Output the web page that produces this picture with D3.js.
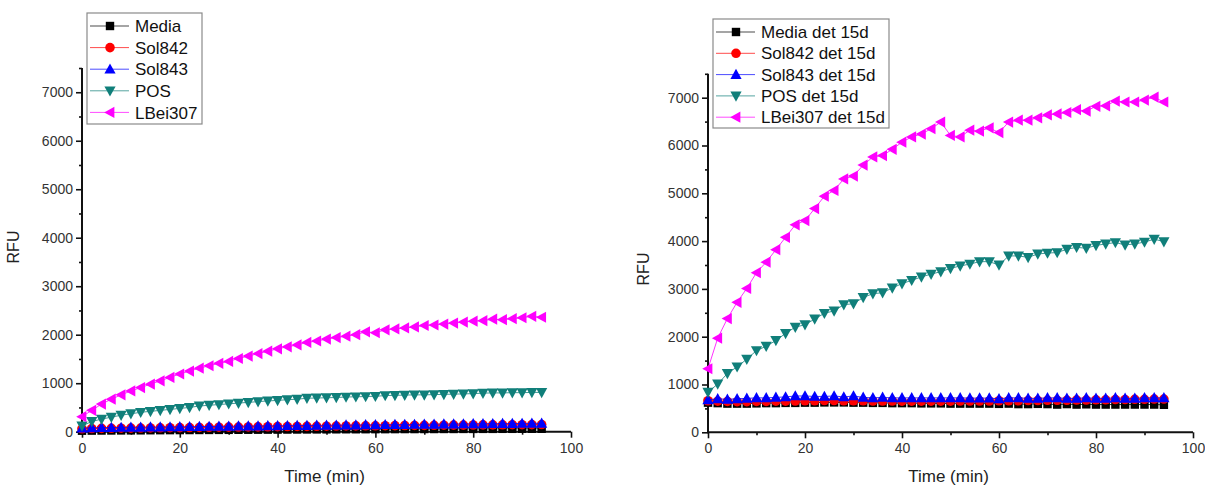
<!DOCTYPE html>
<html><head><meta charset="utf-8">
<script src="https://cdn.jsdelivr.net/npm/d3@7"></script>
<style>
body{margin:0;background:#fff;}
svg{display:block;font-family:"Liberation Sans",Arial,sans-serif;}
</style></head>
<body><svg id="c" width="1205" height="486"></svg>
<script>
const times = d3.range(0, 95, 2); // 0..94 step 2 (48 points)
const xTicksMajor = [0,20,40,60,80,100];
const yTicksMajor = [0,1000,2000,3000,4000,5000,6000,7000];

const seriesNamesLeft = ["Media","Sol842","Sol843","POS","LBei307"];
const seriesNamesRight = ["Media det 15d","Sol842 det 15d","Sol843 det 15d","POS det 15d","LBei307 det 15d"];
const colors = ["#000000","#ff0000","#0000ff","#107f7a","#ff00ff"];
const shapes = ["square","circle","up","down","left"];

// Left panel values
const mediaL = [20,22,24,25,26,27,28,30,31,32,33,34,35,36,37,38,39,40,41,42,43,44,45,46,47,48,49,50,50,51,52,52,53,54,54,55,55,56,56,57,57,58,58,59,59,60,60,60];
const sol842L = [60,65,68,70,72,74,76,78,80,82,84,86,88,90,92,94,96,98,100,102,104,106,108,110,112,114,116,118,120,121,122,124,126,128,129,130,132,134,135,136,138,140,141,142,144,145,146,148];
const sol843L = [75,80,84,86,88,90,92,94,96,98,100,103,106,108,110,112,114,116,118,120,122,124,126,128,130,132,134,136,138,140,142,144,146,148,150,152,154,156,158,160,162,164,165,166,168,170,172,174];
const posL = [120,210,260,300,340,370,400,420,440,460,480,500,530,545,560,575,590,605,620,635,645,660,670,690,695,700,705,715,720,725,730,745,750,755,760,760,765,770,775,780,785,795,800,800,805,805,810,810];
const lbeiL = [310,440,570,670,760,840,910,980,1050,1120,1190,1250,1310,1360,1410,1450,1510,1560,1610,1660,1710,1750,1790,1840,1870,1910,1940,1970,2000,2060,2040,2100,2120,2140,2160,2190,2200,2220,2240,2260,2280,2290,2320,2310,2330,2350,2380,2360];

// Right panel values
const mediaR = [620,610,600,600,600,605,610,610,615,615,620,620,625,625,625,620,620,615,615,610,610,610,605,605,605,600,600,600,600,600,595,600,590,590,595,590,580,590,580,585,580,580,580,580,580,580,580,575];
const sol842R = [660,650,645,640,640,645,645,650,650,655,660,660,665,665,660,660,660,655,655,655,650,650,650,650,650,650,655,655,655,655,660,660,660,665,665,670,670,670,675,675,680,680,685,685,690,690,695,695];
const sol843R = [680,700,690,700,710,720,720,730,740,760,760,750,750,760,740,760,730,720,730,720,720,720,720,720,720,720,720,715,715,715,700,720,720,710,710,720,720,710,710,720,710,710,720,710,710,720,720,720];
const posR = [840,1010,1230,1370,1530,1710,1800,1920,2070,2200,2250,2370,2490,2540,2670,2690,2820,2900,2920,3020,3110,3180,3250,3310,3360,3430,3480,3520,3570,3570,3500,3690,3690,3660,3730,3750,3760,3830,3870,3850,3910,3940,3970,3920,3940,3980,4040,3990];
const lbeiR = [1330,1970,2380,2720,3010,3340,3560,3820,4080,4340,4430,4680,4940,5060,5300,5360,5590,5760,5790,5920,6070,6180,6240,6350,6490,6210,6180,6320,6300,6370,6270,6490,6530,6530,6580,6640,6660,6690,6750,6720,6820,6830,6930,6910,6910,6950,7010,6910];

const svg = d3.select("#c");

function markerPath(shape){
  switch(shape){
    case "square": return "M-4.2,-4.2H4.2V4.2H-4.2Z";
    case "circle": return d3.symbol(d3.symbolCircle, 72)();
    case "up": return "M0,-5.8L5.6,4.4L-5.6,4.4Z";
    case "down": return "M0,5.8L5.6,-4.4L-5.6,-4.4Z";
    case "left": return "M-5.8,0L4.4,-5.6L4.4,5.6Z";
  }
}

function panel(cfg){
  const g = svg.append("g");
  const x = d3.scaleLinear().domain([0,100]).range([cfg.x0,cfg.x1]);
  const y = d3.scaleLinear().domain([0,7500]).range([cfg.y0,cfg.y1]);

  g.append("g").attr("transform",`translate(0,${cfg.y0})`)
    .call(d3.axisBottom(x).tickValues(xTicksMajor).tickSize(6).tickPadding(5).tickFormat(d3.format("d")));
  g.append("g").attr("transform",`translate(0,${cfg.y0})`)
    .call(d3.axisBottom(x).tickValues([10,30,50,70,90]).tickSize(3).tickFormat(""));
  g.append("g").attr("transform",`translate(${cfg.x0},0)`)
    .call(d3.axisLeft(y).tickValues(yTicksMajor).tickSize(6).tickPadding(3).tickFormat(d3.format("d")));
  g.append("g").attr("transform",`translate(${cfg.x0},0)`)
    .call(d3.axisLeft(y).tickValues([500,1500,2500,3500,4500,5500,6500,7500]).tickSize(3).tickFormat(""));
  g.selectAll(".tick line").attr("stroke","#111").attr("stroke-width",1.6);
  g.selectAll(".tick text").attr("font-size",14).attr("fill","#333").attr("font-family","Liberation Sans, Arial");
  g.selectAll(".domain").remove();
  g.append("line").attr("x1",cfg.x0).attr("x2",cfg.x1).attr("y1",cfg.y0).attr("y2",cfg.y0).attr("stroke","#111").attr("stroke-width",2);
  g.append("line").attr("x1",cfg.x0).attr("x2",cfg.x0).attr("y1",cfg.y0+1).attr("y2",cfg.y1).attr("stroke","#111").attr("stroke-width",2);

  g.append("text").attr("x",(cfg.x0+cfg.x1)/2 - 2).attr("y",cfg.y0+50).attr("text-anchor","middle")
    .attr("font-size",17).attr("fill","#222").text("Time (min)");
  g.append("text").attr("transform",`translate(${cfg.rfuX},${cfg.rfuY}) rotate(-90)`).attr("text-anchor","middle")
    .attr("font-size",16).attr("fill","#222").text("RFU");

  const line = d3.line().x((d,i)=>x(times[i])).y(d=>y(d));
  cfg.series.forEach((vals,si)=>{
    g.append("path").attr("d",line(vals)).attr("fill","none").attr("stroke",colors[si]).attr("stroke-width",1).attr("opacity",0.8);
    g.append("g").selectAll("path").data(vals).join("path")
      .attr("transform",(d,i)=>`translate(${x(times[i])},${y(d)})`)
      .attr("d",markerPath(shapes[si])).attr("fill",colors[si]);
  });

  const L = cfg.legend;
  const lg = g.append("g");
  lg.append("rect").attr("x",L.x).attr("y",L.y).attr("width",L.w).attr("height",L.h)
    .attr("fill","#fff").attr("stroke","#8a8a8a").attr("stroke-width",1.2);
  cfg.names.forEach((n,i)=>{
    const yy = L.y + L.first + i*L.step;
    lg.append("line").attr("x1",L.x+3).attr("x2",L.x+42).attr("y1",yy).attr("y2",yy)
      .attr("stroke",colors[i]).attr("stroke-width",1).attr("opacity",0.7);
    lg.append("path").attr("transform",`translate(${L.x+23},${yy})`).attr("d",markerPath(shapes[i])).attr("fill",colors[i]);
    lg.append("text").attr("x",L.x+48).attr("y",yy).attr("dy","0.36em").attr("font-size",17).attr("fill","#111").text(n);
  });
}

panel({x0:82,x1:571,y0:431.7,y1:68,rfuX:19,rfuY:247,names:seriesNamesLeft,
  series:[mediaL,sol842L,sol843L,posL,lbeiL],
  legend:{x:87,y:13,w:115,h:111,first:13,step:21.6}});
panel({x0:708,x1:1193,y0:432.3,y1:73.8,rfuX:649,rfuY:269,names:seriesNamesRight,
  series:[mediaR,sol842R,sol843R,posR,lbeiR],
  legend:{x:713,y:19,w:176,h:109,first:13,step:21.3}});
</script></body></html>
